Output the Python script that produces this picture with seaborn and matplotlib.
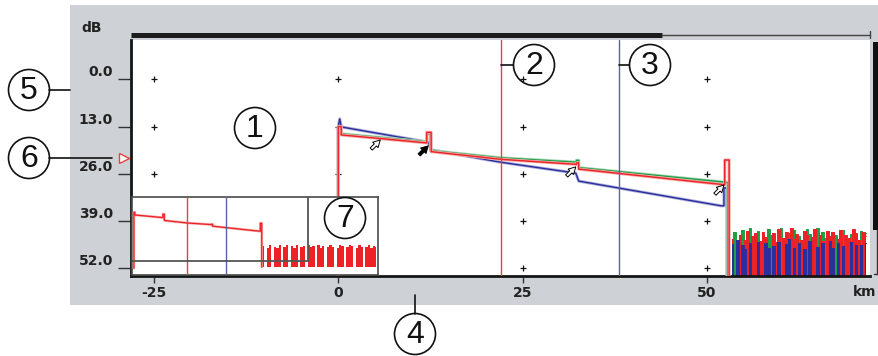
import matplotlib
matplotlib.use('Agg')
import matplotlib.pyplot as plt
import matplotlib.patheffects as pe
from matplotlib.patches import Circle, Rectangle
import seaborn as sns

# ---------------- data ----------------
x_ticks = [-25, 0, 25, 50]
x_tick_labels = ['-25', '0', '25', '50']
y_ticks = [0, 13, 26, 39, 52]
y_tick_labels = ['0.0', '13.0', '26.0', '39.0', '52.0']
view_km = [-28.1, 72.1]
view_db = [-10.8, 54.1]
cursor_a_km = 22.1   # red cursor
cursor_b_km = 38.1   # blue cursor

red_km = [0, 0, 0.4, 0.4, 12.0, 12.0, 12.6, 12.6, 22.0, 32.3, 32.3, 32.6, 32.6, 51.9, 52.4, 52.4, 53.0, 53.0]
red_db = [60, 13.0, 13.0, 15.3, 17.5, 14.6, 14.6, 19.9, 22.0, 23.4, 23.0, 23.0, 24.7, 28.9, 29.0, 22.2, 22.2, 59]

green_km = [0, 0, 0.4, 0.4, 12.0, 12.0, 12.5, 12.5, 22.0, 32.3, 32.3, 32.6, 32.6, 51.9, 52.8, 52.8]
green_db = [60, 13.3, 13.3, 15.0, 17.2, 15.0, 15.0, 19.6, 21.6, 22.8, 22.3, 22.3, 24.3, 28.2, 28.4, 59]

blue_km = [0, 0, 0.2, 0.4, 12.2, 12.6, 22.0, 32.2, 32.6, 51.9, 52.3, 52.3, 52.7, 52.7]
blue_db = [60, 13.1, 10.9, 13.1, 17.3, 19.4, 22.8, 25.8, 28.0, 34.8, 34.8, 29.9, 29.9, 59]

noise_km = [53.40, 53.75, 54.10, 54.45, 54.80, 55.15, 55.50, 55.85, 56.20, 56.55,
            56.90, 57.25, 57.60, 57.95, 58.30, 58.65, 59.00, 59.35, 59.70, 60.05,
            60.40, 60.75, 61.10, 61.45, 61.80, 62.15, 62.50, 62.85, 63.20, 63.55,
            63.90, 64.25, 64.60, 64.95, 65.30, 65.65, 66.00, 66.35, 66.70, 67.05,
            67.40, 67.75, 68.10, 68.45, 68.80, 69.15, 69.50, 69.85, 70.20, 70.55,
            70.90, 71.25, 71.60]
red_noise = [43.8, 59, 46.5, 42.9, 59, 44.1, 41.6, 59, 43.0, 42.2,
             59, 44.6, 41.9, 43.3, 59, 59, 42.4, 44.8, 41.3, 59,
             43.7, 42.1, 59, 41.0, 43.9, 42.6, 59, 44.2, 41.8, 42.9,
             59, 43.4, 41.2, 59, 42.7, 44.5, 59, 41.6, 43.1, 42.0,
             59, 44.0, 41.5, 59, 42.8, 43.6, 59, 41.1, 42.4, 44.3,
             59, 42.0, 43.2]
green_noise = [59, 42.0, 59, 44.5, 41.4, 59, 43.2, 40.9, 59, 59,
               41.7, 59, 43.8, 59, 41.2, 42.9, 59, 59, 43.5, 41.0,
               59, 59, 42.3, 59, 41.5, 59, 43.0, 59, 59, 41.3,
               42.6, 59, 59, 40.8, 59, 42.1, 43.7, 59, 59, 41.9,
               42.8, 59, 59, 41.4, 59, 59, 42.5, 59, 43.3, 59,
               41.6, 59, 42.2]
blue_noise = [45.2, 59, 44.1, 59, 45.5, 46.8, 59, 45.0, 59, 59,
              44.7, 59, 59, 45.1, 46.5, 59, 45.9, 59, 44.8, 59,
              59, 45.4, 44.0, 59, 46.3, 59, 44.9, 59, 46.7, 59,
              44.5, 59, 59, 46.0, 59, 45.1, 59, 59, 44.6, 46.4,
              59, 45.0, 59, 45.9, 59, 59, 44.7, 59, 45.5, 59,
              45.6, 59, 44.9]

inset_km = [53.5, 54.5, 55.5, 56.5, 57.5, 58.5, 59.5, 60.5, 61.5, 62.5,
            63.5, 64.5, 65.5, 66.5, 67.5, 68.5, 69.5, 70.5, 71.5, 72.5,
            73.5, 74.5, 75.5, 76.5, 77.5, 78.5, 79.5, 80.5, 81.5, 82.5,
            83.5, 84.5, 85.5, 86.5, 87.5, 88.5, 89.5, 90.5, 91.5, 92.5,
            93.5, 94.5, 95.5, 96.5, 97.5, 98.5, 99.5, 100.5]
inset_noise = [41.5, 59, 42.8, 40.2, 59, 41.9, 43.0, 40.6, 59, 42.1,
               40.9, 59, 41.4, 43.2, 40.5, 59, 42.6, 41.0, 59, 40.3,
               42.2, 41.7, 59, 40.8, 43.1, 41.2, 59, 42.4, 40.7, 41.8,
               59, 42.9, 40.4, 41.6, 59, 42.3, 40.9, 41.3, 59, 42.7,
               40.6, 41.9, 59, 42.0, 40.8, 43.0, 41.1, 42.5]
inset_view_km = [-0.8, 101.2]
inset_view_db = [0.2, 65.7]

event_km = [5.7, 12.2, 32.2, 52.3]
event_db = [16.7, 18.3, 24.1, 29.1]
event_filled = [False, True, False, False]

RED, GREEN, BLUE = '#ec2226', '#1f9e45', '#2b2f9e'
RED_H, GREEN_H, BLUE_H = '#f6a8a8', '#a3d6b3', '#adafd8'

# ---------------- figure ----------------
sns.set_style('white')
plt.rcParams['font.family'] = ['DejaVu Sans']

W, H = 879, 356
fig = plt.figure(figsize=(W / 100, H / 100), dpi=100)
fig.patch.set_facecolor('white')


def px_axes(x0, y0, x1, y1, z):
    return fig.add_axes([x0 / W, 1 - y1 / H, (x1 - x0) / W, (y1 - y0) / H], zorder=z)


bg = px_axes(0, 0, W, H, 0)
bg.set_xlim(0, W); bg.set_ylim(H, 0); bg.axis('off')
bg.add_patch(Rectangle((70, 5), 809, 300, fc='#ced1d5', ec='none'))

# main axes
ax = px_axes(131, 40, 870, 276, 1)
ax.set_facecolor('white')
ax.set_xlim(*view_km)
ax.set_ylim(view_db[1], view_db[0])
for s in ['top', 'right']:
    ax.spines[s].set_visible(False)
for s in ['left', 'bottom']:
    ax.spines[s].set_color('#151515')
    ax.spines[s].set_linewidth(2)
ax.set_xticks(x_ticks)
ax.set_xticklabels(x_tick_labels, fontweight='bold', fontsize=10, color='#222')
ax.tick_params(axis='x', length=5, width=1, color='#333', pad=2, direction='out', bottom=True)
ax.set_yticks(y_ticks)
ax.set_yticklabels([])
ax.tick_params(axis='y', length=9.4, width=1, color='#333', direction='out', left=True)
for v, lab in zip(y_ticks, y_tick_labels):
    ax.annotate(lab, xy=(0, v), xycoords=('axes fraction', 'data'), xytext=(-13, 5),
                textcoords='offset points', ha='right', va='center',
                fontweight='bold', fontsize=10, color='#222', annotation_clip=False)
ax.set_xlabel(''); ax.set_ylabel('')

# "+" grid marks
gx = [x for x in x_ticks for y in y_ticks]
gy = [y for x in x_ticks for y in y_ticks]
sns.scatterplot(x=gx, y=gy, marker='+', s=18, color='#111', linewidth=0.9, ax=ax, zorder=1.5, legend=False)


def halo(c, w=2.2):
    return [pe.withStroke(linewidth=w, foreground=c)]


# noise (green behind, red middle, blue front)
for km, vals, c, z in [(noise_km, green_noise, GREEN, 2.1), (noise_km, red_noise, RED, 2.2),
                       (noise_km, blue_noise, BLUE, 2.3)]:
    ax.fill_between(km, vals, 60, step='mid', color=c, lw=0, zorder=z)
    sns.lineplot(x=km, y=vals, ax=ax, sort=False, estimator=None, drawstyle='steps-mid',
                 color=c, lw=0.7, zorder=z)

# traces
sns.lineplot(x=blue_km, y=blue_db, ax=ax, sort=False, estimator=None, color=BLUE, lw=1.0,
             zorder=3, path_effects=halo(BLUE_H))
sns.lineplot(x=green_km, y=green_db, ax=ax, sort=False, estimator=None, color=GREEN, lw=1.0,
             zorder=4, path_effects=halo(GREEN_H))
sns.lineplot(x=red_km, y=red_db, ax=ax, sort=False, estimator=None, color=RED, lw=1.0,
             zorder=5, path_effects=halo(RED_H))

# cursors
ax.axvline(cursor_a_km, color='#e8403a', lw=1.0, zorder=6)
ax.axvline(cursor_b_km, color='#5a5fae', lw=1.0, zorder=6)

# event arrows
for k, d, f in zip(event_km, event_db, event_filled):
    ax.annotate('', xy=(k, d), xytext=(-6.5, -6.5), textcoords='offset points',
                arrowprops=dict(arrowstyle='simple,head_length=0.5,head_width=0.55,tail_width=0.22',
                                fc='black' if f else 'white', ec='black', lw=0.7,
                                shrinkA=0, shrinkB=0), zorder=7)

# inset overview
ins = px_axes(132, 197, 378, 275, 2)
ins.set_facecolor('white')
ins.set_xlim(*inset_view_km)
ins.set_ylim(inset_view_db[1], inset_view_db[0])
ins.set_xticks([]); ins.set_yticks([])
for s in ins.spines.values():
    s.set_color('#4a4a4a'); s.set_linewidth(1.2)
ins.fill_between(inset_km, inset_noise, 59, step='mid', color=RED, lw=0, zorder=2)
sns.lineplot(x=red_km, y=red_db, ax=ins, sort=False, estimator=None, color=RED, lw=0.9,
             zorder=3, path_effects=halo(RED_H, 1.8))
ins.axvline(cursor_a_km, color='#e8403a', lw=1.0, zorder=4)
ins.axvline(cursor_b_km, color='#5a5fae', lw=1.0, zorder=4)
ins.add_patch(Rectangle((view_km[0], view_db[0]), view_km[1] - view_km[0], view_db[1] - view_db[0],
                        fill=False, ec='#555', lw=1.3, zorder=5))
ins.set_xlabel(''); ins.set_ylabel('')

# overlay (pixel coordinates)
ov = px_axes(0, 0, W, H, 3)
ov.set_xlim(0, W); ov.set_ylim(H, 0); ov.axis('off'); ov.patch.set_alpha(0)

ov.plot([131, 662], [34.5, 34.5], lw=3.6, color='#1c1c1c', solid_capstyle='butt')
ov.plot([662, 870], [34.5, 34.5], lw=1, color='#444')
ov.plot([870, 870], [31, 38], lw=1, color='#444')
ov.add_patch(Rectangle((873.5, 42), 5.5, 188, fc='#111', ec='none'))
ov.plot([877, 877], [230, 274], lw=1, color='#333')
ov.plot([874, 879], [274, 274], lw=1, color='#333')

ov.text(92, 28, 'dB', ha='center', va='center', fontweight='bold', fontsize=10, color='#222')
ov.text(865, 292, 'km', ha='center', va='center', fontweight='bold', fontsize=10, color='#222')

ov.plot([124], [158], marker='>', ms=7, mfc='white', mec='#e8403a', mew=1)

callouts = [('1', 255, 128), ('2', 534, 65), ('3', 650, 65), ('4', 415, 334),
            ('5', 29, 90), ('6', 29, 158), ('7', 345, 218)]
for lab, cx, cy in callouts:
    ov.add_patch(Circle((cx, cy), 20.5, fill=False, ec='#111', lw=1.2, clip_on=False))
    ov.text(cx, cy + 1, lab, ha='center', va='center', fontsize=23, color='#111',
            family=['Liberation Sans', 'DejaVu Sans'])

xa = ax.transData.transform((cursor_a_km, 0))[0]
xb = ax.transData.transform((cursor_b_km, 0))[0]
leaders = [([xa, 513.5], [65, 65]), ([xb, 629.5], [65, 65]), ([415, 415], [295, 313.5]),
           ([49.5, 70], [90, 90]), ([49.5, 112], [158, 158])]
for lx, ly in leaders:
    ov.plot(lx, ly, lw=1.2, color='#111')

fig.savefig('out.png', dpi=100)
